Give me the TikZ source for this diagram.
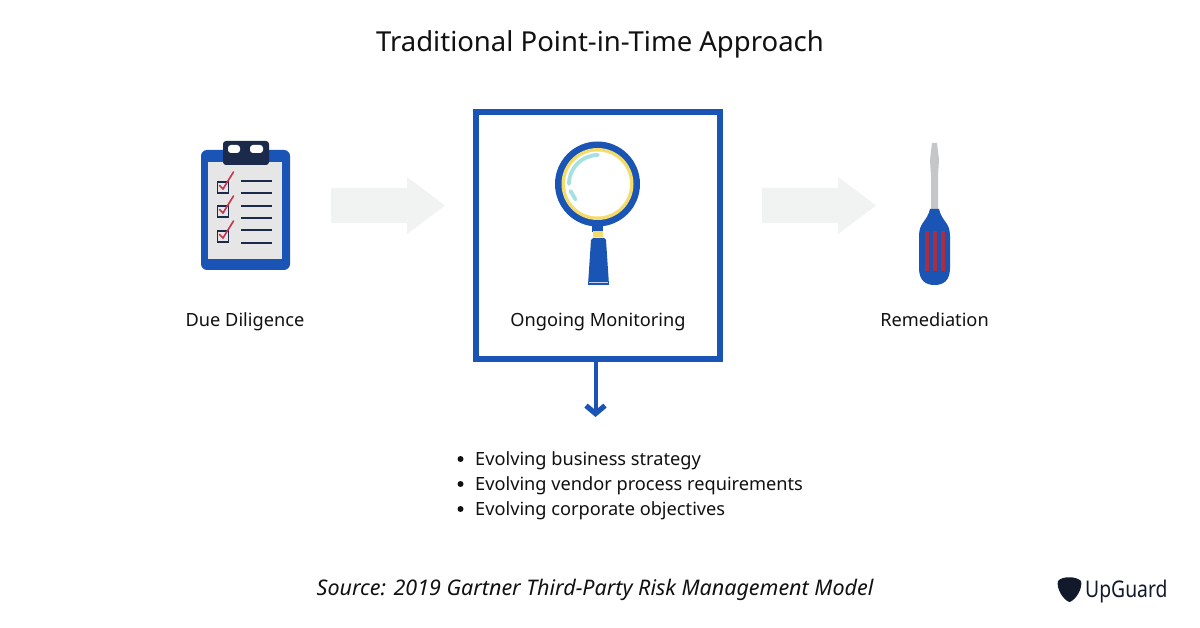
\documentclass[tikz,border=0pt]{standalone}
\usepackage{fontspec}
\setmainfont{Noto Sans}
\usetikzlibrary{arrows.meta}
\definecolor{ugblue}{HTML}{1A55B5}
\definecolor{ugnavy}{HTML}{1B2A4A}
\definecolor{ugdark}{HTML}{12192B}
\definecolor{ugpale}{HTML}{F1F2F2}
\definecolor{ugpaper}{HTML}{E6E6E6}
\definecolor{ugred}{HTML}{C8354B}
\definecolor{ugyellow}{HTML}{F4DC6A}
\definecolor{ugcyan}{HTML}{A6E0E0}
\definecolor{uggrey}{HTML}{C4C6C8}
\definecolor{ugink}{HTML}{111111}
\tikzset{
  lbl/.style={text=ugink,font=\fontsize{18.2}{22}\selectfont,inner sep=0pt,anchor=base},
  bigarrow/.style={fill=ugpale,draw=none},
  todo/.style={draw=ugnavy,line width=2pt},
  tick/.style={draw=ugred,line width=1.6pt,line cap=round},
  cbox/.style={draw=ugnavy,line width=1.8pt,fill=ugpaper},
  stripe/.style={fill=ugred!85!black,draw=none},
}
\begin{document}
\begin{tikzpicture}[x=1pt,y=-1pt]
\useasboundingbox (0,0) rectangle (1200,628);
\fill[white] (0,0) rectangle (1200,628);
% title
\node[text=ugink,font=\fontsize{27.5}{32}\selectfont,inner sep=0pt,anchor=base] (title) at (600,51.5) {Traditional Point-in-Time Approach};
% central frame
\node[draw=ugblue,line width=6pt,minimum width=244pt,minimum height=247pt,inner sep=0pt] (frame) at (598,235.5) {};
% big arrows
\fill[bigarrow] (331,188) -- (407,188) -- (407,177) -- (445,205.5) -- (407,234) -- (407,223) -- (331,223) -- cycle;
\fill[bigarrow] (762,188) -- (838,188) -- (838,177) -- (876,205.5) -- (838,234) -- (838,223) -- (762,223) -- cycle;
% clipboard
\fill[ugblue,rounded corners=6pt] (201,150) rectangle (290,270);
\fill[ugpaper] (208,162) rectangle (282,259);
\fill[ugnavy,rounded corners=3pt] (223,141) -- (269,141) -- (269,165) -- (223,165) -- cycle;
\fill[white,rounded corners=3pt] (228,145) rectangle (240,153);
\fill[white,rounded corners=3pt] (250,145) rectangle (263,153);
\foreach \yy in {181.5,193.5,206,218,230.5,243}{\draw[todo] (241,\yy) -- (272,\yy);}
\foreach \yy in {182,206,231}{
  \draw[cbox] (217.5,\yy) rectangle (228.5,\yy+11);
  \draw[tick] (219.5,\yy+3.5) -- (223,\yy+7) -- (233.5,\yy-10);
}
% magnifier
\fill[ugblue] (592,224) rectangle (603,232);
\fill[ugyellow] (592.5,231) rectangle (602.5,237);
\fill[ugblue] (591,240) -- (593,238) -- (604,238) -- (606,240) -- (609,285) -- (588,285) -- cycle;
\fill[ugpale!80!ugblue] (589,282.3) rectangle (608,283.5);
\fill[ugblue] (597.5,184) circle (42.5);
\fill[ugyellow] (597.5,184) circle (36);
\fill[white] (597.5,184) circle (32.5);
\draw[ugcyan,line width=3.8pt,line cap=round] (598,155) arc[start angle=-90,end angle=-180,radius=29];
\draw[ugcyan,line width=3.8pt,line cap=round] (570.5,191) -- (575.5,199.5);
% screwdriver
\fill[uggrey] (931,209) -- (931,176) -- (930,160) -- (932,143) -- (937,143) -- (939,160) -- (938,176) -- (938,209) -- cycle;
\fill[ugblue] (930,209) -- (939,209) .. controls (942,222) and (950,222) .. (950,236)
  -- (950,268) .. controls (950,281) and (943,285) .. (934.5,285)
  .. controls (926,285) and (919,281) .. (919,268) -- (919,236)
  .. controls (919,222) and (927,222) .. (930,209) -- cycle;
\foreach \xx in {924.5,932.5,940.5}{\fill[stripe] (\xx,231) rectangle (\xx+4,271);}
% labels
\node[lbl] (dd) at (245,327) {Due Diligence};
\node[lbl] (om) at (598,327) {Ongoing Monitoring};
\node[lbl] (re) at (934.5,327) {Remediation};
% connector
\coordinate (down) at (595.5,417);
\draw[ugblue,line width=4pt,-{Straight Barb[length=8pt,width=19pt,line width=5.2pt]}] (frame.south -| down) -- (down);
% bullets
\foreach \yy/\tt/\nm in {465/Evolving business strategy/ba,490/Evolving vendor process requirements/bb,515/Evolving corporate objectives/bc}{
  \fill[ugink] (460.5,\yy-6) circle (3);
  \node[lbl,anchor=base west] (\nm) at (475,\yy) {\tt};
}
% source
\node[lbl,font=\fontsize{21.5}{25}\selectfont\itshape] (src) at (595,595) {Source: 2019 Gartner Third-Party Risk Management Model};
% logo
\fill[ugdark] (1058,581) .. controls (1062,576) and (1076,576) .. (1081,581)
  .. controls (1083,588) and (1076,600) .. (1069.5,602)
  .. controls (1063,600) and (1056,588) .. (1058,581) -- cycle;
\node[text=ugdark,anchor=base west,inner sep=0pt,font=\fontsize{23}{25}\selectfont] (logo) at (1085,597) {\scalebox{0.84}[1]{UpGuard}};
\end{tikzpicture}
\end{document}
